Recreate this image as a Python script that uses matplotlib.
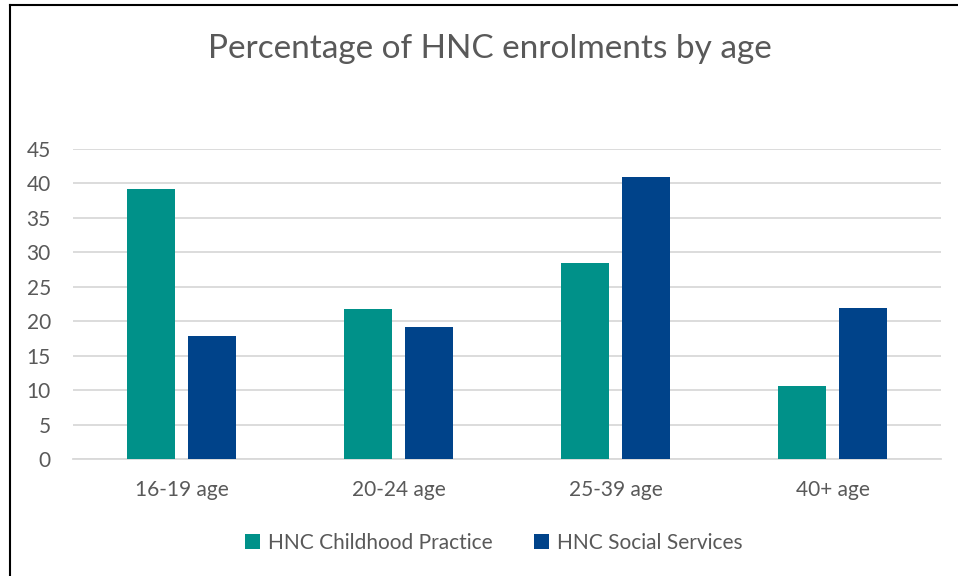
import matplotlib
matplotlib.use("Agg")
import matplotlib.pyplot as plt
import numpy as np

categories = ["16-19 age", "20-24 age", "25-39 age", "40+ age"]
childhood = [39.2, 21.8, 28.4, 10.6]
social = [17.9, 19.2, 40.9, 21.9]
series_names = ["HNC Childhood Practice", "HNC Social Services"]
yticks = [0, 5, 10, 15, 20, 25, 30, 35, 40, 45]

teal = "#009189"
navy = "#00438A"
textc = "#595959"
gridc = "#D9D9D9"

plt.rcParams['font.family'] = ['Lato', 'DejaVu Sans']

W, H = 958, 576
fig = plt.figure(figsize=(W / 100, H / 100), dpi=100)
ax = fig.add_axes([73 / W, 1 - 459 / H, (941 - 73) / W, (459 - 149) / H])

x = np.arange(len(categories))
bw = 0.221
off = 0.141
ax.bar(x - off, childhood, bw, color=teal, label=series_names[0], zorder=3)
ax.bar(x + off, social, bw, color=navy, label=series_names[1], zorder=3)

ax.set_xlim(-0.5, len(categories) - 0.5)
ax.set_ylim(0, 45)
ax.set_yticks(yticks)
ax.set_yticklabels([str(t) for t in yticks])
ax.set_xticks(x)
ax.set_xticklabels(categories)
ax.tick_params(axis='both', length=0, colors=textc, labelsize=15)
ax.tick_params(axis='x', pad=15)
ax.tick_params(axis='y', pad=16)
ax.grid(axis='y', color=gridc, linewidth=1.3, zorder=0)
for s in ['top', 'right', 'left']:
    ax.spines[s].set_visible(False)
ax.spines['bottom'].set_color(gridc)
ax.spines['bottom'].set_linewidth(1.3)

fig.text(490 / W, 1 - 49 / H, "Percentage of HNC enrolments by age",
         ha='center', va='center', fontsize=24, color=textc)

leg = fig.legend(loc='center', bbox_to_anchor=(494 / W, 1 - 543 / H), ncol=2,
                 frameon=False, fontsize=15, handlelength=0.7, handleheight=0.7,
                 handletextpad=0.4, columnspacing=2.0)
for t in leg.get_texts():
    t.set_color(textc)

# chart border (top and left visible)
fig.add_artist(plt.Line2D([10 / W, 1.0], [1 - 5 / H, 1 - 5 / H], color='black',
                          linewidth=1.5, transform=fig.transFigure))
fig.add_artist(plt.Line2D([10 / W, 10 / W], [0, 1 - 5 / H], color='black',
                          linewidth=1.5, transform=fig.transFigure))

fig.savefig("out.png", dpi=100)
